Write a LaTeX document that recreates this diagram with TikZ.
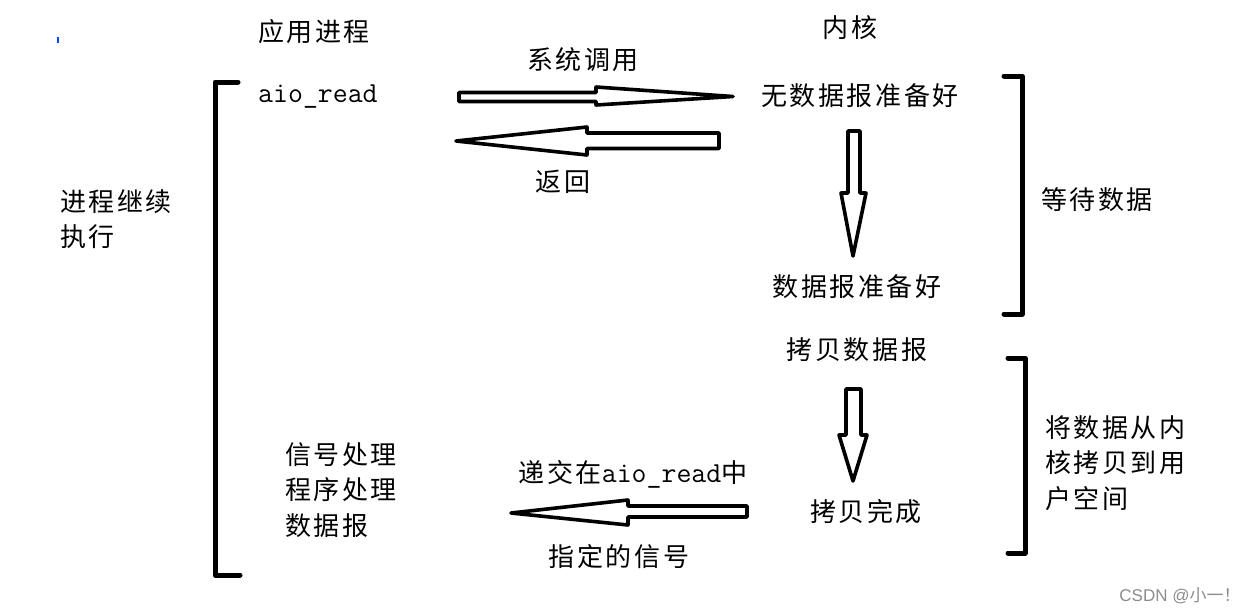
\documentclass[tikz,border=0pt]{standalone}
\usepackage{fontspec}
\newfontfamily\cjk[LetterSpace=10]{Noto Sans CJK SC}
\newfontfamily\cjkplain{Noto Sans CJK SC}
\newfontfamily\wmfont{Liberation Sans}
\begin{document}
\begin{tikzpicture}[x=1pt,y=-1pt,
  lbl/.style={font=\cjk\fontsize{26}{35.5}\selectfont, inner sep=0pt, text=black},
  lblL/.style={lbl, align=left, anchor=west},
  mono/.style={font=\ttfamily\fontsize{29}{30}\selectfont, inner sep=0pt},
  blockarrow/.style={draw=black, line width=3.6pt, line join=round, fill=white},
  bracket/.style={draw=black, line width=5pt, line cap=round, line join=round}]
\useasboundingbox (0,0) rectangle (1257,614);
% texts
\node[lbl] (app) at (314,32) {应用进程};
\node[lbl] (kernel) at (850,28) {内核};
\node[lbl] (syscall) at (583,60) {系统调用};
\node[mono, anchor=west] (aio) at (258,97) {aio\_read};
\node[lbl] (nodata) at (860,96) {无数据报准备好};
\node[lbl] (ret) at (563,182) {返回};
\node[lblL] (cont) at (60,219) {进程继续\\执行};
\node[lbl] (ready) at (857,287) {数据报准备好};
\node[lbl] (wait) at (1097,200) {等待数据};
\node[lbl] (copy) at (857,350) {拷贝数据报};
\node[lblL] (k2u) at (1045,463) {将数据从内\\核拷贝到用\\户空间};
\node[lbl] (done) at (866,512) {拷贝完成};
\node[lblL] (sig) at (285,490) {信号处理\\程序处理\\数据报};
\node[inner sep=0pt] (deliver) at (633,474) {\cjk\fontsize{26}{30}\selectfont 递交在{\ttfamily\fontsize{29}{30}\selectfont aio\_read}中};
\node[lbl] (spec) at (619,557) {指定的信号};
\node[inner sep=0pt, text=black!45, font=\wmfont\fontsize{17}{19}\selectfont] (wm) at (1180,596) {CSDN @\cjkplain 小一！};
% small blue mark
\coordinate (bm1) at (58,37); \coordinate (bm2) at (58,43);
\draw[blue!70!cyan, line width=1.5pt] (bm1) -- (bm2);
% brackets
\coordinate (lb1) at (238,82); \coordinate (lb2) at (215,82);
\coordinate (lb3) at (215,575); \coordinate (lb4) at (240,575);
\draw[bracket] (lb1) -- (lb2) -- (lb3) -- (lb4);
\coordinate (rb1) at (1004,76); \coordinate (rb2) at (1022,76);
\coordinate (rb3) at (1022,314); \coordinate (rb4) at (1004,314);
\draw[bracket] (rb1) -- (rb2) -- (rb3) -- (rb4);
\coordinate (rc1) at (1008,358); \coordinate (rc2) at (1025,358);
\coordinate (rc3) at (1025,553); \coordinate (rc4) at (1008,553);
\draw[bracket] (rc1) -- (rc2) -- (rc3) -- (rc4);
% arrow 1: syscall (right)
\draw[blockarrow] (459,92.5) -- (596,92.5) -- (596,87) -- (733,96.5) -- (596,105) -- (596,101.5) -- (459,101.5) -- cycle;
% arrow 2: return (left)
\draw[blockarrow] (719,133) -- (587,133) -- (587,127) -- (456,141) -- (587,155) -- (587,148.5) -- (719,148.5) -- cycle;
% arrow 3: down wait
\draw[blockarrow] (848,131) -- (860,131) -- (860,193) -- (866,193) -- (853,256) -- (841,193) -- (848,193) -- cycle;
% arrow 4: down copy
\draw[blockarrow] (846,389) -- (861,389) -- (861,435) -- (867,435) -- (853,481) -- (839,435) -- (846,435) -- cycle;
% arrow 5: deliver (left)
\draw[blockarrow] (747,506) -- (628,506) -- (628,500) -- (511,513) -- (628,525) -- (628,517) -- (747,517) -- cycle;
\end{tikzpicture}
\end{document}
